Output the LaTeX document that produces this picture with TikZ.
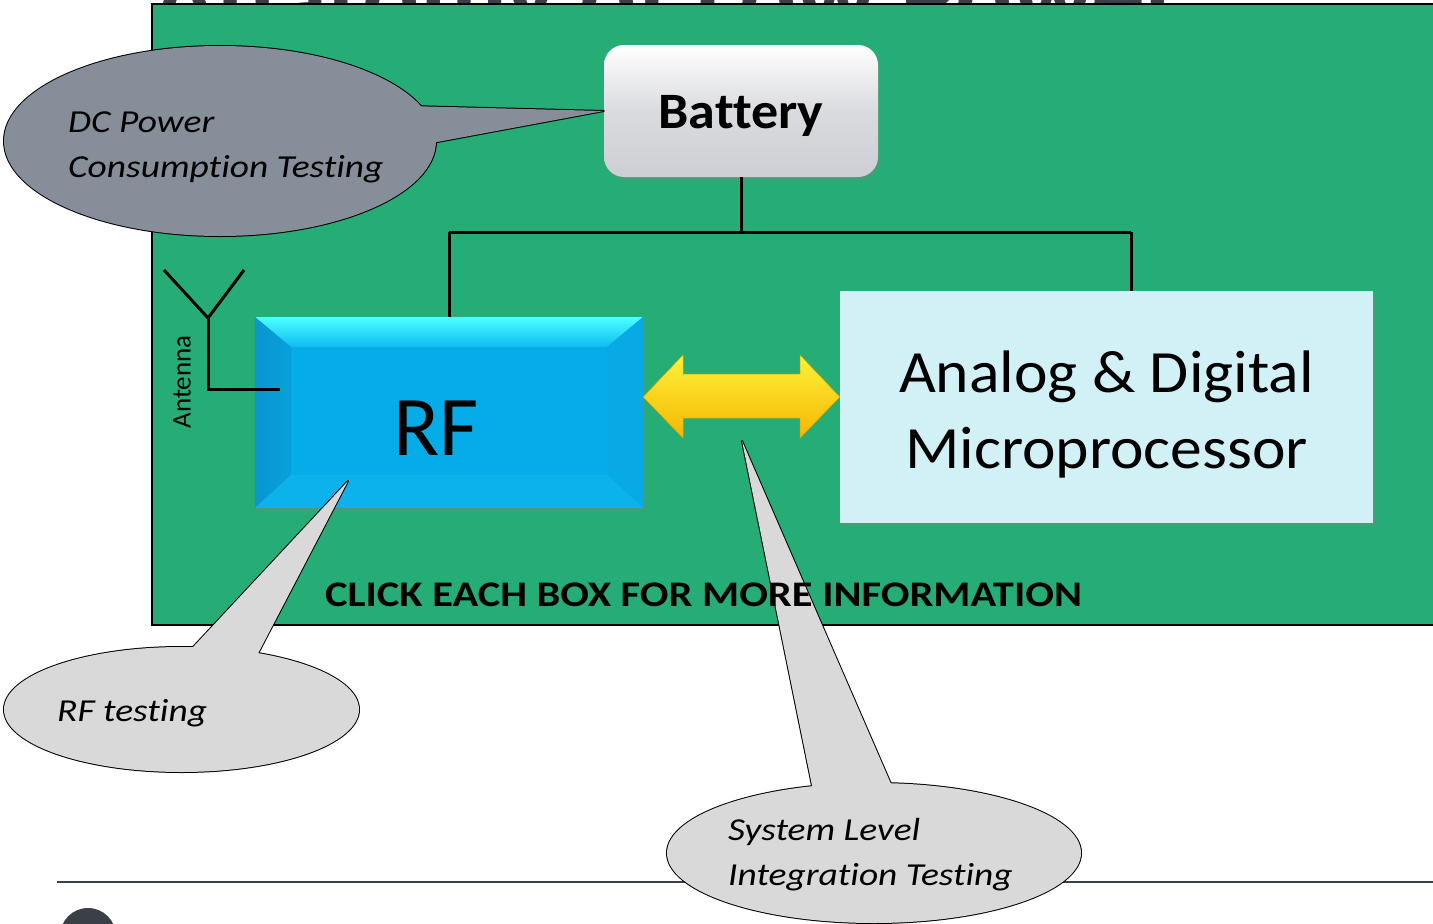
\documentclass[tikz,border=0pt]{standalone}
\usepackage{fontspec}
\setmainfont{Carlito}[Ligatures=NoCommon]
\newfontfamily\wideital{Carlito}[Ligatures=NoCommon, FakeStretch=1.17, UprightFont=*-Italic]
\newfontfamily\widebold{Carlito}[Ligatures=NoCommon, FakeStretch=1.18, UprightFont=*-Bold]
\newfontfamily\midbold{Carlito}[Ligatures=NoCommon, FakeStretch=1.06, UprightFont=*-Bold]
\newfontfamily\midreg{Carlito}[Ligatures=NoCommon, FakeStretch=1.06]
\usetikzlibrary{shapes.geometric,shadows}
\definecolor{board}{RGB}{38,173,118}
\definecolor{titlegray}{RGB}{59,63,70}
\definecolor{dcgray}{RGB}{134,142,153}
\definecolor{callgray}{RGB}{217,217,217}
\definecolor{mpcyan}{RGB}{209,241,247}
\definecolor{rfbody}{RGB}{6,172,232}
\definecolor{rftop}{RGB}{75,255,255}
\definecolor{rftop2}{RGB}{14,188,242}
\definecolor{rfleft}{RGB}{8,160,220}
\definecolor{rfright}{RGB}{8,170,230}
\definecolor{rfbottom}{RGB}{12,178,236}
\definecolor{battbot}{RGB}{206,207,212}
\definecolor{yellowtop}{RGB}{255,242,60}
\definecolor{yellowbot}{RGB}{245,182,0}
\tikzset{
  wire/.style={draw=black, line width=3pt},
  outline/.style={draw=black, line width=2pt, line join=round},
  calltext/.style={anchor=base west, inner sep=0pt, font=\fontsize{32}{45}\selectfont\wideital, align=left},
}
\begin{document}
\begin{tikzpicture}[x=1pt,y=-1pt]
\useasboundingbox (0,0) rectangle (1433,924);
% title (mostly hidden)
\node[anchor=base west, inner sep=0pt, text=titlegray, font=\fontsize{107}{107}\selectfont\bfseries] (title) at (152,32) {Anatomy of Low Power};
% board
\path[fill=board, draw=black, line width=1.5pt] (152,4) rectangle (1440,625);
% bottom rule and dot
\draw[draw=titlegray, line width=2pt] (57,882) -- (1440,882);
\fill[titlegray] (88,936) circle [radius=28pt];
% battery
\node[minimum width=274pt, minimum height=132pt, rounded corners=20pt, top color=white, bottom color=battbot, middle color={rgb,255:red,218;green,219;blue,223}, drop shadow={opacity=0.35, shadow xshift=2pt, shadow yshift=-3pt}, font=\fontsize{51}{51}\selectfont\midbold] (bat) at (741,111) {\raisebox{-5pt}[\height][\depth]{Battery}};
% analog box
\node[minimum width=533pt, minimum height=232pt, fill=mpcyan, drop shadow={opacity=0.35, shadow xshift=3pt, shadow yshift=-3pt}] (mp) at (1106.5,407) {};
\node[align=center, inner sep=0pt, font=\fontsize{60}{76}\selectfont\midreg] (mptxt) at (1106.5,414) {Analog \& Digital\\Microprocessor};
% RF box
\node[minimum width=388pt, minimum height=191pt, inner sep=0pt, fill=rfbody, drop shadow={opacity=0.3, shadow xshift=2pt, shadow yshift=-3pt}] (rf) at (449,412.5) {};
\shade[top color=rftop, bottom color=rftop2] (255,317) -- (643,317) -- (607,347) -- (291,347) -- cycle;
\shade[left color=rfleft!94!black, right color=rfleft] (255,317) -- (291,347) -- (291,475) -- (255,508) -- cycle;
\fill[rfright] (643,317) -- (607,347) -- (607,475) -- (643,508) -- cycle;
\fill[rfbottom] (255,508) -- (291,475) -- (607,475) -- (643,508) -- cycle;
\node[font=\fontsize{85}{85}\selectfont, inner sep=0pt] (rftxt) at (436,428) {RF};
% power wiring
\coordinate (jl) at (449,232);
\coordinate (jr) at (1131,232);
\draw[wire] (bat.south) -- (bat.south |- jl);
\draw[wire] (jl) -- (jr);
\draw[wire] (jl) -- (jl |- rf.north);
\draw[wire] (jr) -- (jr |- mp.north);
% antenna
\coordinate (ay) at (208,318);
\coordinate (ac) at (208,389);
\coordinate (af) at (280,389);
\draw[wire, line join=miter] (164,270) -- (ay) -- (244,270);
\draw[wire, line join=miter] (ay) -- (ac) -- (af);
\node[rotate=90, font=\fontsize{27}{27}\selectfont, inner sep=0pt] (ant) at (182,382) {Antenna};
% yellow double arrow
\shade[top color=yellowtop, bottom color=yellowbot, draw=yellowbot!90!black, line width=0.5pt]
  (rf.east |- 0,397) -- (683,355) -- (683,374) -- (800,374) -- (800,355) -- (mp.west |- 0,397) -- (800,438) -- (800,418) -- (683,418) -- (683,438) -- cycle;
% DC callout
\path[outline] (220,141) ellipse [x radius=216pt, y radius=95pt];
\path[outline] (bat.west) -- (330,104) -- (330,162) -- cycle;
\path[fill=dcgray] (220,141) ellipse [x radius=216pt, y radius=95pt];
\path[fill=dcgray] (bat.west) -- (330,104) -- (330,162) -- cycle;
\node[calltext] (dctxt) at (68,177) {DC Power\\Consumption Testing};
% RF testing callout
\coordinate (rftip) at (348,481);
\path[outline] (181.5,709.5) ellipse [x radius=177.5pt, y radius=62.5pt];
\path[outline] (rftip) -- (153,690) -- (239,690) -- cycle;
\path[fill=callgray] (181.5,709.5) ellipse [x radius=177.5pt, y radius=62.5pt];
\path[fill=callgray] (rftip) -- (153,690) -- (239,690) -- cycle;
\node[calltext] (rfttxt) at (57,721) {RF testing};
% System level callout
\coordinate (systip) at (742,441);
\path[outline] (874,853) ellipse [x radius=207pt, y radius=70pt];
\path[outline] (systip) -- (821,830) -- (911,830) -- cycle;
\path[fill=callgray] (874,853) ellipse [x radius=207pt, y radius=70pt];
\path[fill=callgray] (systip) -- (821,830) -- (911,830) -- cycle;
\node[calltext] (systxt) at (728,885) {System Level\\Integration Testing};
% click text
\node[anchor=base west, inner sep=0pt, font=\fontsize{36}{36}\selectfont\widebold] (clk) at (325,606) {CLICK EACH BOX FOR MORE INFORMATION};
\end{tikzpicture}
\end{document}
